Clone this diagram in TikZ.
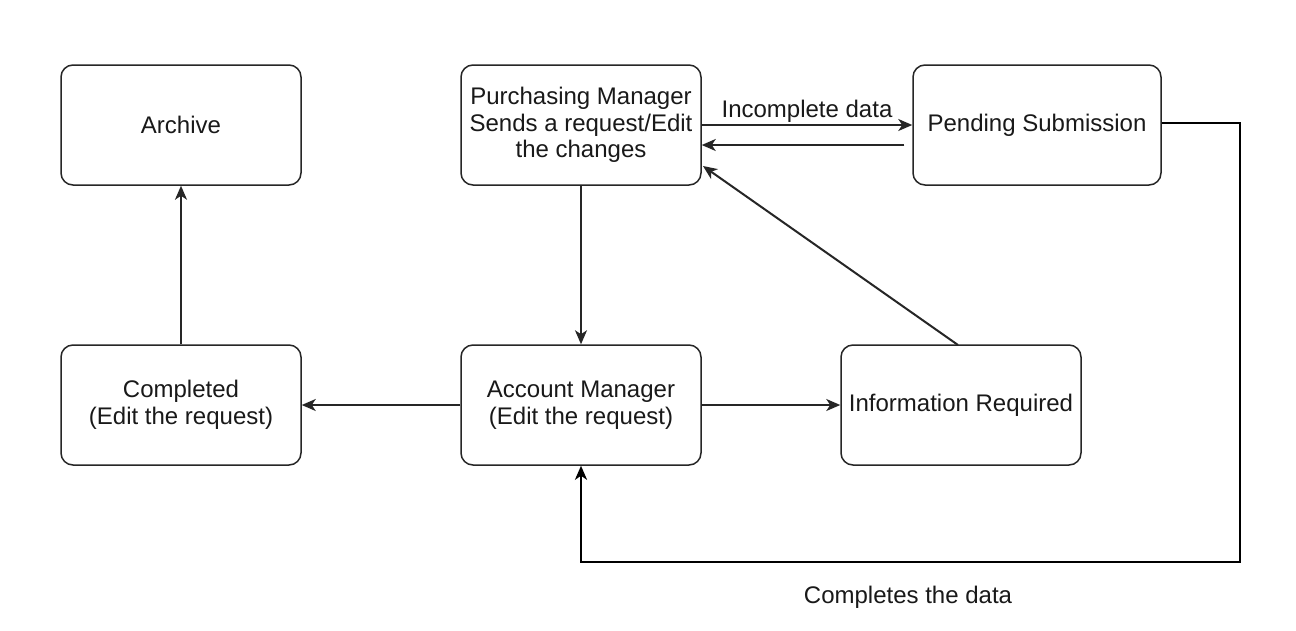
\documentclass[tikz,border=0pt]{standalone}
\usepackage{fontspec}
\setmainfont{Liberation Sans}
\usetikzlibrary{arrows.meta,calc}
\tikzset{
  box/.style={draw=black!85, line width=1.5pt, rounded corners=12pt, minimum width=240pt, minimum height=120pt, align=center, inner sep=0pt, font=\fontsize{24}{26.5}\selectfont, text=black!90},
  lbl/.style={font=\fontsize{24}{26.5}\selectfont, text=black!90, inner sep=0pt},
  conn/.style={draw=black!85, line width=2pt, -{Stealth[length=14pt,width=12pt,inset=4pt]}},
  loop/.style={draw=black, line width=2.6pt, -{Stealth[length=14pt,width=12pt,inset=4pt]}}
}
\begin{document}
\begin{tikzpicture}[x=1pt,y=-1pt]
\useasboundingbox[fill=white] (0,0) rectangle (1296,630);
\node[box] (arch) at (181,125) {Archive};
\node[box] (purch) at (581,125) {Purchasing Manager\\Sends a request/Edit\\the changes};
\node[box, minimum width=248pt] (pend) at (1037,125) {Pending Submission};
\node[box] (comp) at (181,405) {Completed\\(Edit the request)};
\node[box] (acct) at (581,405) {Account Manager\\(Edit the request)};
\node[box] (info) at (961,405) {Information Required};
\coordinate (r1) at (1240,123);
\coordinate (r2) at (1240,562);
\coordinate (r3) at (581,562);
\coordinate (ret) at ($(pend.west)+(-8,20)$);
\coordinate (infotop) at (958,345);
\coordinate (purchcorner) at (703,166);
\draw[conn] (purch.east) -- node[lbl, above=2pt] (l1) {Incomplete data} (pend.west);
\draw[conn] (ret) -- (ret -| purch.east);
\draw[conn] (purch.south) -- (acct.north);
\draw[conn] (infotop) -- (purchcorner);
\draw[conn] (acct.east) -- (info.west);
\draw[conn] (acct.west) -- (comp.east);
\draw[conn] (comp.north) -- (arch.south);
\draw[loop, rounded corners=0pt] (pend.east |- r1) -- (r1) -- (r2) -- (r3) -- (acct.south);
\node[lbl, anchor=base] (l2) at (908,603) {Completes the data};
\end{tikzpicture}
\end{document}
